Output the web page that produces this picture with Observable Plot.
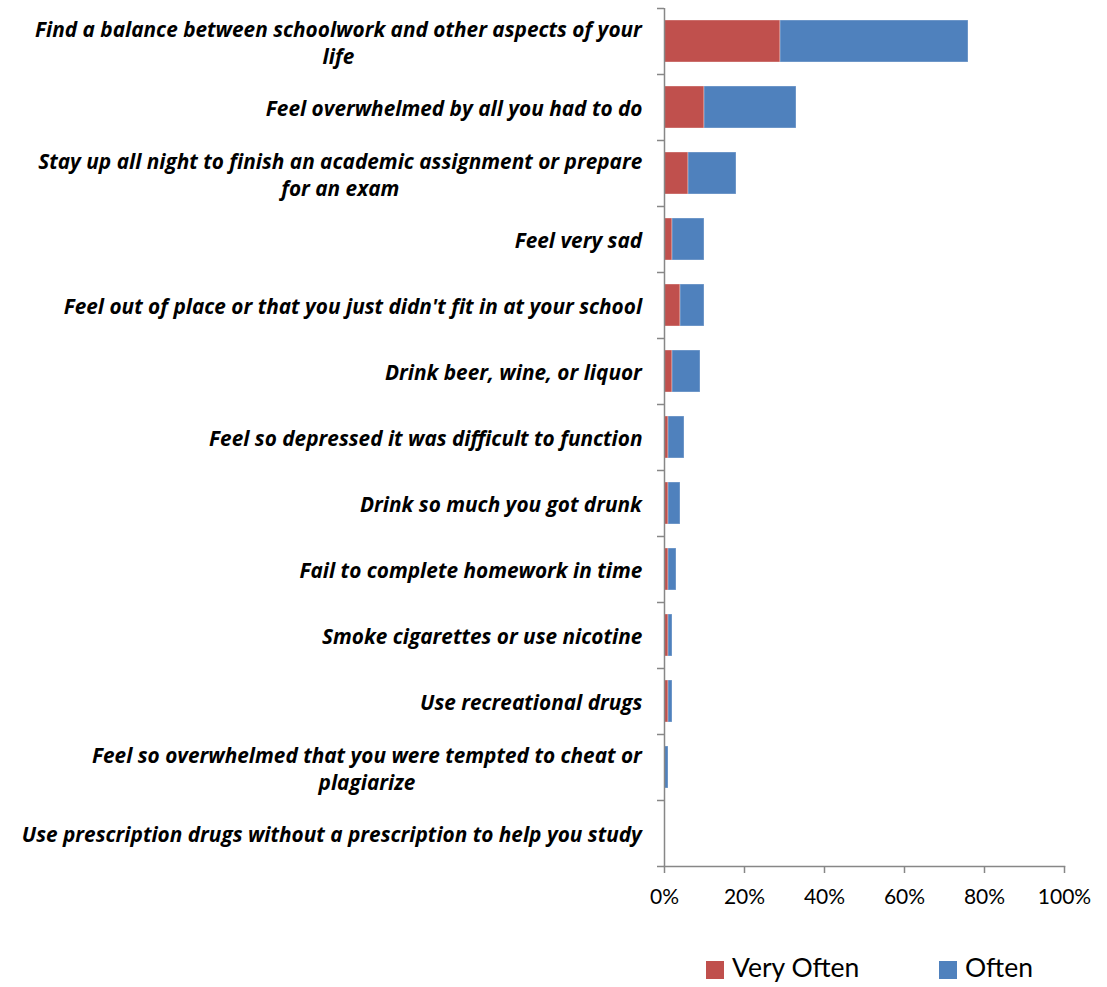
<!DOCTYPE html>
<html>
<head>
<meta charset="utf-8">
<script src="https://cdn.jsdelivr.net/npm/d3@7"></script>
<script src="https://cdn.jsdelivr.net/npm/@observablehq/plot@0.6"></script>
<style>
  html, body { margin: 0; padding: 0; background: #fff; }
  #wrap { position: relative; width: 1107px; height: 987px; }
  .item { position: absolute; top: 953px; height: 28px; display: flex; align-items: center;
          font-family: Lato, "Open Sans", sans-serif; font-size: 26.5px; line-height: 1; color: #000; }
  .sw { width: 18px; height: 18px; margin-right: 8px; margin-top: 5px; }
</style>
</head>
<body>
<div id="wrap">
  <div id="chart"></div>
  <div id="legend"></div>
</div>
<script>
const categories = [
  "Find a balance between schoolwork and other aspects of your\nlife",
  "Feel overwhelmed by all you had to do",
  "Stay up all night to finish an academic assignment or prepare\nfor an exam",
  "Feel very sad",
  "Feel out of place or that you just didn't fit in at your school",
  "Drink beer, wine, or liquor",
  "Feel so depressed it was difficult to function",
  "Drink so much you got drunk",
  "Fail to complete homework in time",
  "Smoke cigarettes or use nicotine",
  "Use recreational drugs",
  "Feel so overwhelmed that you were tempted to cheat or\nplagiarize",
  "Use prescription drugs without a prescription to help you study"
];
const seriesNames = ["Very Often", "Often"];
const veryOften = [29, 10, 6, 2, 4, 2, 1, 1, 1, 1, 1, 0, 0];
const often     = [47, 23, 12, 8, 6, 7, 4, 3, 2, 1, 1, 1, 0];
const xTicks = [0, 20, 40, 60, 80, 100];
const colors = ["#C0504D", "#4F81BD"];

const rows = [];
categories.forEach((c, i) => {
  rows.push({category: c, series: seriesNames[0], value: veryOften[i]});
  rows.push({category: c, series: seriesNames[1], value: often[i]});
});

const axisColor = "#878787";

const chart = Plot.plot({
  width: 1107,
  height: 930,
  marginLeft: 664,
  marginRight: 43,
  marginTop: 8,
  marginBottom: 64,
  style: {fontFamily: "Lato, 'Open Sans', sans-serif", background: "#fff", color: "#000"},
  x: {domain: [0, 100], label: null},
  y: {domain: categories, paddingInner: 0.37, paddingOuter: 0.185, label: null},
  color: {domain: seriesNames, range: colors},
  marks: [
    Plot.barX(rows, Plot.stackX({
      x: "value", y: "category", fill: "series",
      stroke: "#ffffff", strokeOpacity: 0.35, strokeWidth: 1
    })),
    Plot.ruleX([0], {stroke: axisColor, strokeWidth: 1.5}),
    Plot.frame({anchor: "bottom", stroke: axisColor, strokeWidth: 1.5}),
    Plot.axisY({ticks: categories, tickSize: 7, text: null, label: null, stroke: axisColor, strokeWidth: 1.5, dy: -33}),
    Plot.axisY({ticks: categories.slice(-1), tickSize: 7, text: null, label: null, stroke: axisColor, strokeWidth: 1.5, dy: 33}),
    Plot.axisY({
      ticks: categories, tickSize: 0, tickPadding: 22, label: null,
      fontFamily: "'Open Sans', sans-serif",
      fontSize: 20.8, fontWeight: "bold", fontStyle: "italic",
      lineHeight: 1.3, textAnchor: "middle", fill: "#000"
    }),
    Plot.axisX({
      ticks: xTicks, tickSize: 7, tickPadding: 16, stroke: axisColor, strokeWidth: 1.5,
      tickFormat: d => d + "%", fontSize: 21, fill: "#000", label: null
    })
  ]
});
document.getElementById("chart").appendChild(chart);

// right-align each label block while centring its lines (Excel-style wrapped labels)
d3.select(chart).selectAll("g[aria-label='y-axis tick label'] text").each(function() {
  const w = this.getBBox().width;
  const t = this.getAttribute("transform") || "";
  this.setAttribute("transform", t + ` translate(${-w / 2},0)`);
});

const legend = document.getElementById("legend");
const legendLeft = [706, 939];
seriesNames.forEach((s, i) => {
  const item = document.createElement("div");
  item.className = "item";
  item.style.left = legendLeft[i] + "px";
  const sw = document.createElement("div");
  sw.className = "sw";
  sw.style.background = colors[i];
  const tx = document.createElement("span");
  tx.textContent = s;
  item.appendChild(sw);
  item.appendChild(tx);
  legend.appendChild(item);
});
</script>
</body>
</html>
